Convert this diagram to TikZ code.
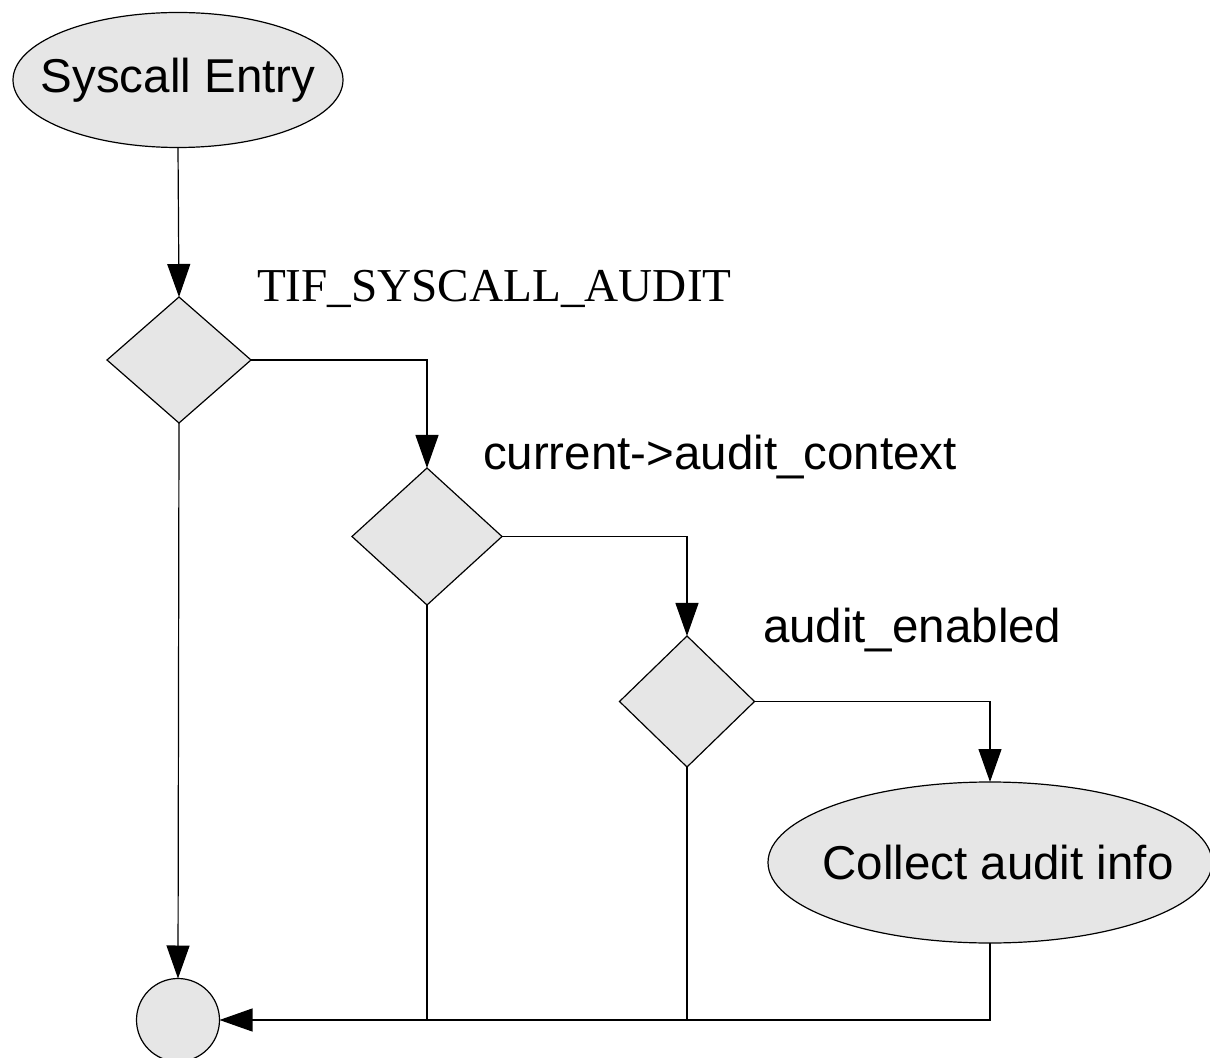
\documentclass[tikz,border=0pt]{standalone}
\usepackage{fontspec}
\setmainfont{Liberation Sans}
\newfontfamily\serifcond{Liberation Serif}
\usetikzlibrary{shapes.geometric,arrows.meta}
\definecolor{boxgray}{HTML}{E6E6E6}
\newcommand{\fixedtext}[1]{\makebox[0pt][c]{#1}}
\begin{document}
\begin{tikzpicture}[x=0.5pt,y=-0.5pt,
  every node/.style={inner sep=0pt,outer sep=0pt},
  flowline/.style={line width=0.6pt,draw=black},
  flowarrow/.style={flowline,-{Triangle[length=16.5pt,width=11.5pt]}},
  terminal/.style={ellipse,draw=black,fill=boxgray,line width=0.6pt,font=\fontsize{23.75}{28}\selectfont},
  decision/.style={diamond,draw=black,fill=boxgray,line width=0.6pt},
  sinknode/.style={circle,draw=black,fill=boxgray,line width=0.6pt,minimum size=41.5pt},
  condlabel/.style={anchor=base west,font=\fontsize{23.75}{28}\selectfont},
  flaglabel/.style={anchor=base west,font=\serifcond\fontsize{23.6}{28}\selectfont}]
\useasboundingbox (0,0) rectangle (1210,1058);

% start and action ellipses (text kept inside a zero-width box so the size stays fixed)
\node[terminal,minimum width=165pt,minimum height=67.5pt] (entry) at (178,80) {\fixedtext{Syscall Entry}};
\node[terminal,minimum width=222pt,minimum height=80.5pt] (collect) at (990,862.5) {\fixedtext{\hspace*{8pt}Collect audit info}};

% the three tests
\node[decision,minimum width=72pt,minimum height=63pt] (d1) at (179,360) {};
\node[decision,minimum width=75pt,minimum height=68.5pt] (d2) at (427,536.5) {};
\node[decision,minimum width=67.5pt,minimum height=65.5pt] (d3) at (687,701.5) {};

% exit point
\node[sinknode] (exit) at (178,1020) {};

% test labels
\node[flaglabel] (l1) at (257,302) {TIF\_SYSCALL\_AUDIT};
\node[condlabel] (l2) at (483,470) {current->audit\_context};
\node[condlabel] (l3) at (763,642) {audit\_enabled};

% connectors
\draw[flowarrow] (entry.south) -- (d1.north);
\draw[flowarrow] (d1.east) -| (d2.north);
\draw[flowarrow] (d2.east) -| (d3.north);
\draw[flowarrow] (d3.east) -| (collect.north);
\draw[flowarrow] (d1.south) -- (exit.north);
\draw[flowarrow] (collect.south) |- (exit.east);
\draw[flowline] (d2.south) -- (d2.south |- exit.east);
\draw[flowline] (d3.south) -- (d3.south |- exit.east);
\end{tikzpicture}
\end{document}
